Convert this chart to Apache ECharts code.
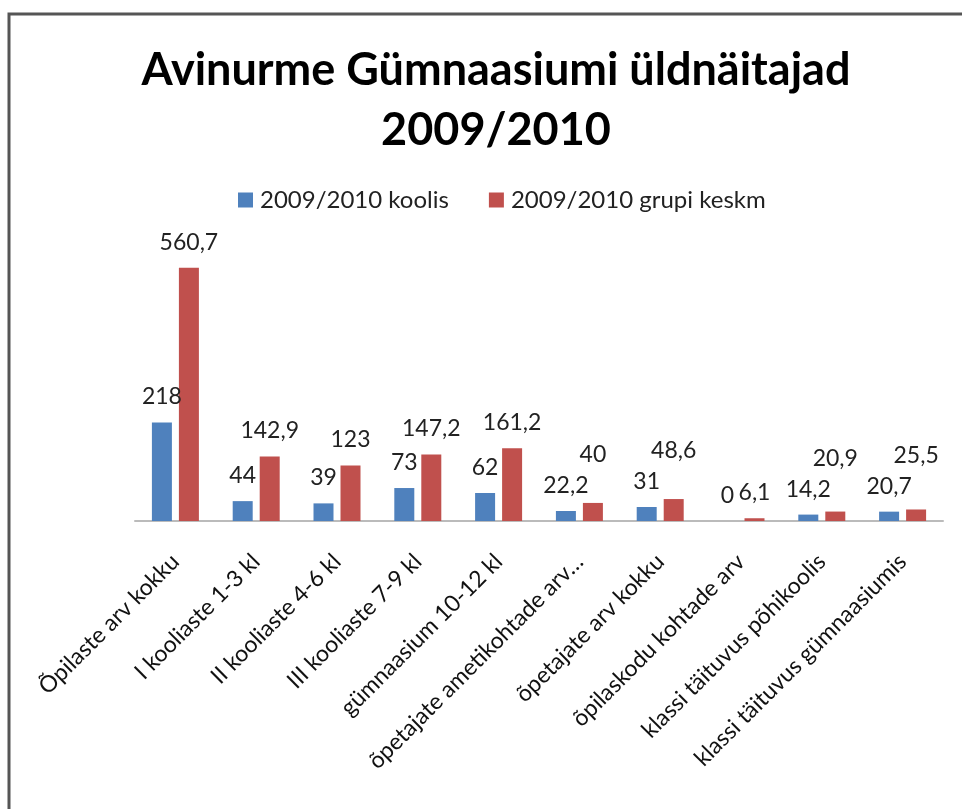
<!DOCTYPE html>
<html>
<head>
<meta charset="utf-8">
<script src="https://cdn.jsdelivr.net/npm/echarts@6/dist/echarts.min.js"></script>
<style>
  html, body { margin: 0; padding: 0; background: #fff; overflow: hidden; }
  #chart { width: 962px; height: 809px; }
</style>
</head>
<body>
<div id="chart"></div>
<script>
  // andmed
  var categories = [
    'Õpilaste arv kokku',
    'I kooliaste 1-3 kl',
    'II kooliaste 4-6 kl',
    'III kooliaste 7-9 kl',
    'gümnaasium 10-12 kl',
    'õpetajate ametikohtade arv…',
    'õpetajate arv kokku',
    'õpilaskodu kohtade arv',
    'klassi täituvus põhikoolis',
    'klassi täituvus gümnaasiumis'
  ];
  var koolis = [218, 44, 39, 73, 62, 22.2, 31, 0, 14.2, 20.7];
  var grupiKeskm = [560.7, 142.9, 123, 147.2, 161.2, 40, 48.6, 6.1, 20.9, 25.5];
  var seriesNames = ['2009/2010 koolis', '2009/2010 grupi keskm'];

  var font = 'Lato, "Open Sans", sans-serif';
  var labelSize = 23;
  var labelDist = 14;
  var barW = 20;
  var barGapPx = 7;

  function fmt(v) {
    return String(v).replace('.', ',');
  }
  function commaFormat(p) {
    return fmt(p.value);
  }

  // teksti laiuse mõõtmine
  var ctx = document.createElement('canvas').getContext('2d');
  ctx.font = labelSize + 'px ' + font;
  function textWidth(s) {
    return ctx.measureText(s).width;
  }

  var valueLabel = {
    show: true,
    position: 'top',
    distance: labelDist,
    formatter: commaFormat,
    fontFamily: font,
    fontSize: labelSize,
    color: '#222'
  };

  // punase sildi tõstmine, kui see kattub sinise sildiga (nagu Excelis)
  function liftRedLabel(params) {
    var i = params.dataIndex;
    var r = params.rect, lr = params.labelRect;
    var redVal = grupiKeskm[i];
    if (!redVal || !r.height) return {};
    var base = r.y + r.height;
    var ppu = r.height / redVal;
    var blueTop = base - koolis[i] * ppu;
    var blueCx = r.x + r.width / 2 - (barW + barGapPx);
    var bw = textWidth(fmt(koolis[i]));
    var bBottom = blueTop - labelDist;
    var bTop = bBottom - lr.height;
    var redCx = lr.x + lr.width / 2;
    var hOverlap = Math.abs(redCx - blueCx) < (lr.width + bw) / 2 + 2;
    var vOverlap = lr.y < bBottom && lr.y + lr.height > bTop;
    if (hOverlap && vOverlap) {
      return { dy: (bTop - 8) - (lr.y + lr.height) };
    }
    return {};
  }

  var myChart = echarts.init(document.getElementById('chart'));
  var option = {
    animation: false,
    backgroundColor: '#fff',
    color: ['#4F81BD', '#C0504D'],
    title: {
      text: 'Avinurme Gümnaasiumi üldnäitajad\n2009/2010',
      left: 491,
      textAlign: 'center',
      top: 35,
      textStyle: {
        fontFamily: font,
        fontWeight: 'bold',
        fontSize: 45,
        lineHeight: 60,
        color: '#000'
      }
    },
    legend: {
      top: 183,
      left: 233,
      itemWidth: 15,
      itemHeight: 15,
      itemGap: 40,
      icon: 'rect',
      textStyle: { fontFamily: font, fontSize: 24, color: '#222', padding: [0, 0, 0, 2] },
      data: seriesNames
    },
    graphic: [{
      type: 'rect',
      shape: { x: 9, y: 14, width: 2000, height: 2000 },
      style: { fill: 'none', stroke: '#555', lineWidth: 3 },
      silent: true
    }],
    grid: {
      left: 135,
      right: 19,
      top: 250,
      bottom: 288,
      containLabel: false
    },
    xAxis: {
      type: 'category',
      data: categories,
      axisLine: { lineStyle: { color: '#BBBBBB', width: 2 } },
      axisTick: { show: false },
      axisLabel: {
        interval: 0,
        rotate: 45,
        margin: 37,
        fontFamily: font,
        fontSize: 23,
        color: '#111'
      }
    },
    yAxis: {
      type: 'value',
      min: 0,
      max: 600,
      show: false
    },
    series: [
      {
        name: seriesNames[0],
        type: 'bar',
        data: koolis,
        barWidth: barW,
        barGap: (barGapPx / barW * 100) + '%',
        label: valueLabel
      },
      {
        name: seriesNames[1],
        type: 'bar',
        data: grupiKeskm,
        barWidth: barW,
        label: valueLabel,
        labelLayout: liftRedLabel
      }
    ]
  };
  myChart.setOption(option);
</script>
</body>
</html>
